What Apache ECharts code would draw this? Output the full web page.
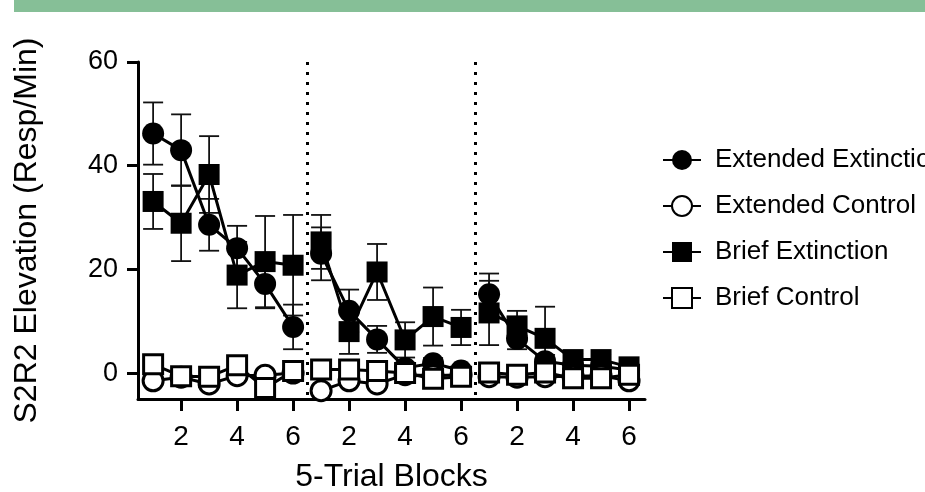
<!DOCTYPE html>
<html>
<head>
<meta charset="utf-8">
<style>
  html, body { margin: 0; padding: 0; background: #fff; }
  #chart { width: 925px; height: 492px; }
</style>
<script src="https://cdn.jsdelivr.net/npm/echarts@6/dist/echarts.min.js"></script>
</head>
<body>
<div id="chart"></div>
<script>
// Sequential block index across the three test phases (6 blocks each)
const blocks = [1, 2, 3, 4, 5, 6, 7, 8, 9, 10, 11, 12, 13, 14, 15, 16, 17, 18];
const blocksPerPhase = 6;
const xTicks = [2, 4, 6, 8, 10, 12, 14, 16, 18];
const yTicks = [0, 20, 40, 60];

// Group means (responses / min)
const extendedExtinction = [46.2, 43.0, 28.6, 24.1, 17.2, 8.9, 23.0, 12.0, 6.5, 1.0, 1.9, 0.5, 15.2, 6.6, 2.3, 1.5, 1.3, 0.6];
const extendedControl    = [-1.5, -0.8, -2.1, -0.5, -0.4, 0.0, -3.4, -1.5, -2.1, -0.3, -0.5, -0.3, -0.7, -0.8, -0.7, -0.6, -0.5, -1.5];
const briefExtinction    = [33.1, 28.9, 38.3, 18.9, 21.5, 20.8, 25.3, 8.0, 19.5, 6.4, 10.9, 8.8, 11.6, 9.1, 6.7, 2.6, 2.6, 1.2];
const briefControl       = [1.7, -0.6, -0.7, 1.5, -2.9, 0.4, 0.7, 0.7, 0.4, 0.0, -1.1, -0.7, 0.1, -0.3, 0.1, -1.0, -1.0, -0.3];

// Standard errors
const extendedExtinctionSem = [6.0, 6.9, 5.0, 4.3, 4.7, 4.3, 5.1, 4.1, 2.6, 1.0, 1.0, 0.6, 4.0, 2.0, 1.2, 0.8, 0.6, 0.5];
const extendedControlSem    = [0.8, 0.8, 0.8, 0.8, 0.8, 0.8, 0.8, 0.8, 0.8, 0.8, 0.8, 0.8, 0.8, 0.8, 0.8, 0.8, 0.8, 0.8];
const briefExtinctionSem    = [5.3, 7.3, 7.4, 6.4, 8.8, 9.7, 5.2, 4.3, 5.4, 3.4, 5.6, 3.4, 6.2, 2.9, 6.1, 1.2, 1.0, 0.8];
const briefControlSem       = [0.8, 0.8, 0.8, 0.8, 0.8, 0.8, 0.8, 0.8, 0.8, 0.8, 0.8, 0.8, 0.8, 0.8, 0.8, 0.8, 0.8, 0.8];

const groupNames = ['Extended Extinction', 'Extended Control', 'Brief Extinction', 'Brief Control'];

const FONT = 'Liberation Sans, Arial, Helvetica, sans-serif';

// Line data with a gap between phases so each phase is drawn as its own curve
function lineData(values) {
  const out = [];
  values.forEach((v, i) => {
    out.push([blocks[i], v]);
    if ((i + 1) % blocksPerPhase === 0 && i < values.length - 1) {
      out.push([(blocks[i] + blocks[i + 1]) / 2, '-']);
    }
  });
  return out;
}

function errData(values, sems) {
  return values.map((v, i) => [blocks[i], v, sems[i]]);
}

function renderErrorBar(params, api) {
  const x = api.value(0), y = api.value(1), e = api.value(2);
  const top = api.coord([x, y + e]);
  const bot = api.coord([x, y - e]);
  const hw = 10;
  const st = { stroke: '#111', lineWidth: 1.8 };
  return {
    type: 'group',
    children: [
      { type: 'line', shape: { x1: top[0], y1: top[1], x2: bot[0], y2: bot[1] }, style: st },
      { type: 'line', shape: { x1: top[0] - hw, y1: top[1], x2: top[0] + hw, y2: top[1] }, style: st },
      { type: 'line', shape: { x1: bot[0] - hw, y1: bot[1], x2: bot[0] + hw, y2: bot[1] }, style: st }
    ]
  };
}

// Phase boundaries (dotted separators)
const boundaries = [];
for (let i = blocksPerPhase; i < blocks.length; i += blocksPerPhase) {
  boundaries.push((blocks[i - 1] + blocks[i]) / 2);
}

const chart = echarts.init(document.getElementById('chart'), null, { renderer: 'canvas' });

const lineCommon = {
  type: 'line',
  connectNulls: false,
  lineStyle: { color: '#000', width: 3 },
  emphasis: { disabled: true },
  animation: false
};

const option = {
  animation: false,
  backgroundColor: '#fff',
  textStyle: { fontFamily: FONT, color: '#000' },
  graphic: [
    { type: 'rect', left: 14, top: 0, shape: { width: 911, height: 12 }, style: { fill: '#86bf97' }, silent: true }
  ],
  grid: { left: 138, right: 280, top: 62, bottom: 93, containLabel: false, outerBoundsMode: 'none' },
  legend: {
    data: groupNames,
    orient: 'vertical',
    left: 657,
    top: 142,
    itemWidth: 38,
    itemHeight: 25,
    itemGap: 20,
    textStyle: { fontFamily: FONT, fontSize: 26, color: '#000', padding: [0, 0, 0, 9] },
    selectedMode: false
  },
  xAxis: {
    type: 'value',
    min: 0.46,
    max: 18.57,
    name: '5-Trial Blocks',
    nameLocation: 'middle',
    nameGap: 62,
    nameTextStyle: { fontFamily: FONT, fontSize: 32, color: '#000' },
    splitLine: { show: false },
    axisLine: { onZero: false, lineStyle: { color: '#000', width: 3 } },
    axisTick: { show: true, customValues: xTicks, length: 12, lineStyle: { color: '#000', width: 3 } },
    axisLabel: {
      customValues: xTicks,
      margin: 24,
      fontFamily: FONT,
      fontSize: 28,
      color: '#000',
      formatter: v => String(((Math.round(v) - 1) % blocksPerPhase) + 1)
    }
  },
  yAxis: {
    type: 'value',
    min: -5,
    max: 60,
    name: 'S2R2 Elevation (Resp/Min)',
    nameLocation: 'middle',
    nameGap: 95,
    nameTextStyle: { fontFamily: FONT, fontSize: 32, color: '#000' },
    splitLine: { show: false },
    axisLine: { show: true, onZero: false, lineStyle: { color: '#000', width: 3 } },
    axisTick: { show: true, customValues: yTicks, length: 11, lineStyle: { color: '#000', width: 3 } },
    axisLabel: { customValues: yTicks, margin: 20, fontFamily: FONT, fontSize: 27, color: '#000' }
  },
  series: [
    {
      type: 'custom', name: 'sem-ee', renderItem: renderErrorBar,
      data: errData(extendedExtinction, extendedExtinctionSem), encode: { x: 0, y: 1 }, z: 1, silent: true,
      markLine: {
        silent: true, symbol: 'none', label: { show: false },
        lineStyle: { color: '#000', width: 3, type: [3, 7], cap: 'butt' },
        data: boundaries.map(b => [{ coord: [b, 60] }, { coord: [b, -5] }])
      }
    },
    { type: 'custom', name: 'sem-be', renderItem: renderErrorBar, data: errData(briefExtinction, briefExtinctionSem), encode: { x: 0, y: 1 }, z: 1, silent: true },
    { type: 'custom', name: 'sem-ec', renderItem: renderErrorBar, data: errData(extendedControl, extendedControlSem), encode: { x: 0, y: 1 }, z: 1, silent: true },
    { type: 'custom', name: 'sem-bc', renderItem: renderErrorBar, data: errData(briefControl, briefControlSem), encode: { x: 0, y: 1 }, z: 1, silent: true },
    Object.assign({}, lineCommon, {
      name: 'Extended Extinction', data: lineData(extendedExtinction), z: 3,
      symbol: 'circle', symbolSize: 22, itemStyle: { color: '#000', borderColor: '#000', borderWidth: 0 }
    }),
    Object.assign({}, lineCommon, {
      name: 'Brief Extinction', data: lineData(briefExtinction), z: 4,
      symbol: 'rect', symbolSize: 21, itemStyle: { color: '#000', borderColor: '#000', borderWidth: 0 }
    }),
    Object.assign({}, lineCommon, {
      name: 'Extended Control', data: lineData(extendedControl), z: 5,
      symbol: 'circle', symbolSize: 20, itemStyle: { color: '#fff', borderColor: '#000', borderWidth: 3 }
    }),
    Object.assign({}, lineCommon, {
      name: 'Brief Control', data: lineData(briefControl), z: 6,
      symbol: 'rect', symbolSize: 19, itemStyle: { color: '#fff', borderColor: '#000', borderWidth: 3 }
    })
  ]
};

chart.setOption(option);
</script>
</body>
</html>
